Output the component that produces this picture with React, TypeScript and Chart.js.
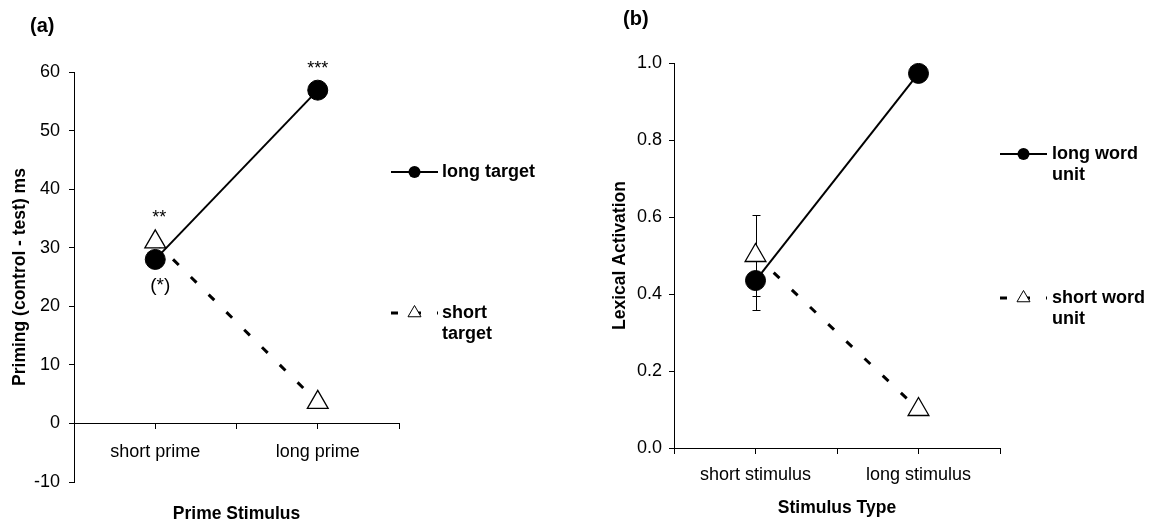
import React, { useEffect, useRef } from "react";
import { Chart, registerables } from "chart.js";

Chart.register(...registerables);

const FONT = "'Liberation Sans', Arial, Helvetica, sans-serif";

// ---------- Panel (a) data ----------
const primeCategories = ["short prime", "long prime"];
const longTarget = [28, 56.9];
const shortTarget = [31, 3.6];
const longTargetSig = ["(*)", "***"];
const shortTargetSig = ["**", ""];
const primeLegend = [["long target"], ["short", "target"]];
const primeYRange = [-10, 60];
const primeYStep = 10;

// ---------- Panel (b) data ----------
const stimulusCategories = ["short stimulus", "long stimulus"];
const longWordUnit = [0.435, 0.973];
const shortWordUnit = [0.5, 0.1];
const longWordUnitErr = [0.076, 0];
const shortWordUnitErr = [0.105, 0];
const stimulusLegend = [["long word", "unit"], ["short word", "unit"]];
const activationYRange = [0, 1];
const activationYStep = 0.2;

type Panel = {
  tag: string;
  tagPos: [number, number];
  categories: string[];
  solid: number[];
  dashed: number[];
  solidErr?: number[];
  dashedErr?: number[];
  solidSig?: string[];
  dashedSig?: string[];
  legend: string[][];
  legendX: [number, number, number];
  legendY: [number, number];
  yRange: number[];
  yStep: number;
  yFmt: (v: number) => string;
  yTitle: string;
  xTitle: string;
  yAxisW: number;
  yTitlePad: number;
  yTickPad: number;
  xTickPad: number;
  xAxisH: number;
  padding: { left: number; top: number; right: number; bottom: number };
};

function makeOverlay(p: Panel) {
  return {
    id: "overlay-" + p.tag,
    beforeDatasetsDraw(chart: any) {
      const { ctx } = chart;
      const xs = chart.scales.x;
      const ys = chart.scales.y;
      const bars: [number[], number[] | undefined][] = [
        [p.solid, p.solidErr],
        [p.dashed, p.dashedErr],
      ];
      ctx.save();
      ctx.strokeStyle = "#000";
      ctx.lineWidth = 1;
      bars.forEach(([vals, errs]) => {
        if (!errs) return;
        vals.forEach((v, i) => {
          const e = errs[i];
          if (!e) return;
          const px = Math.round(xs.getPixelForValue(i + 0.5)) + 0.5;
          const top = Math.round(ys.getPixelForValue(v + e)) + 0.5;
          const bot = Math.round(ys.getPixelForValue(v - e)) + 0.5;
          ctx.beginPath();
          ctx.moveTo(px, top);
          ctx.lineTo(px, bot);
          ctx.moveTo(px - 4, top);
          ctx.lineTo(px + 4, top);
          ctx.moveTo(px - 4, bot);
          ctx.lineTo(px + 4, bot);
          ctx.stroke();
        });
      });
      ctx.restore();
    },
    afterDraw(chart: any) {
      const { ctx } = chart;
      ctx.save();
      ctx.fillStyle = "#000";
      ctx.strokeStyle = "#000";
      // panel tag
      ctx.font = `bold 20px ${FONT}`;
      ctx.textAlign = "left";
      ctx.textBaseline = "middle";
      ctx.fillText(p.tag, p.tagPos[0], p.tagPos[1]);

      // significance labels
      const m0 = chart.getDatasetMeta(0).data;
      const m1 = chart.getDatasetMeta(1).data;
      ctx.textAlign = "center";
      (p.solidSig || []).forEach((s, i) => {
        if (!s) return;
        const pt = m0[i];
        const below = p.dashed[i] > p.solid[i];
        if (below) {
          ctx.font = `19px ${FONT}`;
          ctx.fillText(s, pt.x + 5, pt.y + 26);
        } else {
          ctx.font = `18px ${FONT}`;
          ctx.fillText(s, pt.x, pt.y - 21);
        }
      });
      (p.dashedSig || []).forEach((s, i) => {
        if (!s) return;
        const pt = m1[i];
        ctx.font = `18px ${FONT}`;
        ctx.fillText(s, pt.x + 4, pt.y - 24);
      });

      // legend
      const [x0, x1, tx] = p.legendX;
      const mx = (x0 + x1) / 2;
      p.legend.forEach((lines, k) => {
        const y = p.legendY[k];
        ctx.save();
        ctx.beginPath();
        if (k === 0) {
          ctx.lineWidth = 2;
          ctx.setLineDash([]);
        } else {
          ctx.lineWidth = 3;
          ctx.setLineDash([7, 16]);
        }
        ctx.moveTo(x0, y);
        ctx.lineTo(x1, y);
        ctx.stroke();
        ctx.setLineDash([]);
        ctx.lineWidth = 1;
        ctx.beginPath();
        if (k === 0) {
          ctx.arc(mx, y, 6, 0, Math.PI * 2);
          ctx.fillStyle = "#000";
          ctx.fill();
        } else {
          const r = 7.5;
          ctx.moveTo(mx, y - r);
          ctx.lineTo(mx + r * 0.866, y + r / 2);
          ctx.lineTo(mx - r * 0.866, y + r / 2);
          ctx.closePath();
          ctx.fillStyle = "#fff";
          ctx.fill();
          ctx.stroke();
        }
        ctx.restore();
        ctx.font = `bold 18px ${FONT}`;
        ctx.textAlign = "left";
        ctx.textBaseline = "middle";
        ctx.fillStyle = "#000";
        lines.forEach((ln, j) => ctx.fillText(ln, tx, y + j * 21));
      });
      ctx.restore();
    },
  };
}

function buildConfig(p: Panel): any {
  const pts = (arr: number[]) => arr.map((v, i) => ({ x: i + 0.5, y: v }));
  return {
    type: "line",
    data: {
      datasets: [
        {
          label: p.legend[0].join(" "),
          data: pts(p.solid),
          borderColor: "#000",
          borderWidth: 2,
          pointStyle: "circle",
          pointRadius: 10,
          pointHoverRadius: 10,
          pointBackgroundColor: "#000",
          pointBorderColor: "#000",
          pointBorderWidth: 1,
          fill: false,
          tension: 0,
        },
        {
          label: p.legend[1].join(" "),
          data: pts(p.dashed),
          borderColor: "#000",
          borderWidth: 3,
          borderDash: [8, 17],
          pointStyle: "triangle",
          pointRadius: 12,
          pointHoverRadius: 12,
          pointBackgroundColor: "#fff",
          pointBorderColor: "#000",
          pointBorderWidth: 1.3,
          fill: false,
          tension: 0,
        },
      ],
    },
    options: {
      animation: false,
      responsive: false,
      devicePixelRatio: 1,
      events: [],
      layout: { padding: p.padding },
      plugins: {
        legend: { display: false },
        tooltip: { enabled: false },
        title: { display: false },
      },
      scales: {
        x: {
          type: "linear",
          position: { y: 0 },
          min: 0,
          max: p.categories.length,
          afterFit: (s: any) => {
            s.height = p.xAxisH;
          },
          border: { display: true, color: "#000", width: 1 },
          grid: {
            drawOnChartArea: false,
            drawTicks: true,
            tickLength: 5,
            color: "#000",
            lineWidth: 1,
          },
          ticks: {
            stepSize: 0.5,
            autoSkip: false,
            maxRotation: 0,
            minRotation: 0,
            color: "#000",
            padding: p.xTickPad,
            font: { family: FONT, size: 18 },
            callback: (v: number) => {
              const i = v - 0.5;
              return Number.isInteger(i) && p.categories[i] ? p.categories[i] : "";
            },
          },
          title: {
            display: true,
            text: p.xTitle,
            color: "#000",
            padding: 0,
            font: { family: FONT, size: 17.5, weight: "bold" },
          },
        },
        y: {
          type: "linear",
          position: "left",
          min: p.yRange[0],
          max: p.yRange[1],
          afterFit: (s: any) => {
            s.width = p.yAxisW;
          },
          border: { display: true, color: "#000", width: 1 },
          grid: {
            drawOnChartArea: false,
            drawTicks: true,
            tickLength: 5,
            color: "#000",
            lineWidth: 1,
          },
          ticks: {
            stepSize: p.yStep,
            color: "#000",
            padding: p.yTickPad,
            font: { family: FONT, size: 18 },
            callback: (v: number) => p.yFmt(v),
          },
          title: {
            display: true,
            text: p.yTitle,
            color: "#000",
            padding: { top: p.yTitlePad, bottom: 0 },
            font: { family: FONT, size: 17.5, weight: "bold" },
          },
        },
      },
    },
    plugins: [makeOverlay(p)],
  };
}

const panelA: Panel = {
  tag: "(a)",
  tagPos: [30, 26],
  categories: primeCategories,
  solid: longTarget,
  dashed: shortTarget,
  solidSig: longTargetSig,
  dashedSig: shortTargetSig,
  legend: primeLegend,
  legendX: [391, 438, 442],
  legendY: [172, 313],
  yRange: primeYRange,
  yStep: primeYStep,
  yFmt: (v) => String(Math.round(v)),
  yTitle: "Priming (control - test) ms",
  xTitle: "Prime Stimulus",
  yAxisW: 74,
  yTitlePad: 10,
  yTickPad: 9,
  xTickPad: 12.6,
  xAxisH: 101.5,
  padding: { left: 0, top: 72, right: 181, bottom: 42 },
};

const panelB: Panel = {
  tag: "(b)",
  tagPos: [43, 19],
  categories: stimulusCategories,
  solid: longWordUnit,
  dashed: shortWordUnit,
  solidErr: longWordUnitErr,
  dashedErr: shortWordUnitErr,
  legend: stimulusLegend,
  legendX: [420, 467, 472],
  legendY: [154, 298],
  yRange: activationYRange,
  yStep: activationYStep,
  yFmt: (v) => v.toFixed(1),
  yTitle: "Lexical Activation",
  xTitle: "Stimulus Type",
  yAxisW: 94,
  yTitlePad: 30,
  yTickPad: 7,
  xTickPad: 11.6,
  xAxisH: 70.5,
  padding: { left: 0, top: 63, right: 159, bottom: 76 },
};

function PanelChart({ panel, left, width }: { panel: Panel; left: number; width: number }) {
  const ref = useRef<HTMLCanvasElement | null>(null);
  useEffect(() => {
    if (!ref.current) return;
    const chart = new Chart(ref.current, buildConfig(panel));
    return () => chart.destroy();
  }, [panel]);
  return (
    <canvas
      ref={ref}
      width={width}
      height={524}
      style={{ position: "absolute", left, top: 0, width, height: 524 }}
    />
  );
}

export default function App() {
  return (
    <div
      style={{
        position: "absolute",
        left: 0,
        top: 0,
        width: 1159,
        height: 524,
        background: "#fff",
        overflow: "hidden",
      }}
    >
      <PanelChart panel={panelA} left={0} width={580} />
      <PanelChart panel={panelB} left={580} width={579} />
    </div>
  );
}
